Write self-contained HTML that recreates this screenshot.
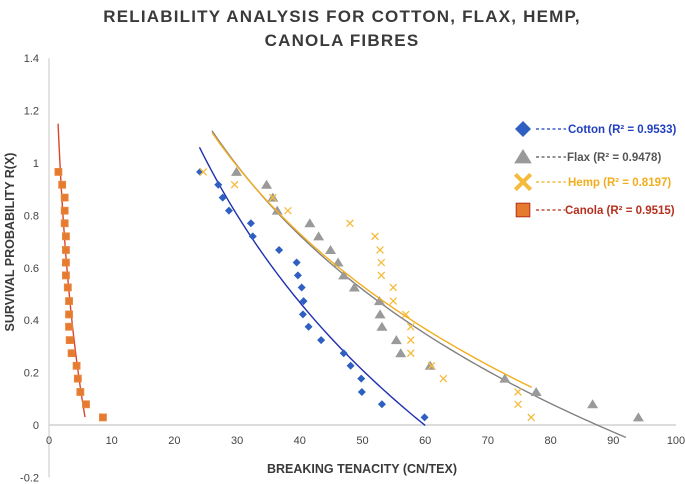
<!DOCTYPE html>
<html><head><meta charset="utf-8"><style>
html,body{margin:0;padding:0;background:#fff;}
svg{display:block;font-family:"Liberation Sans",sans-serif;}
</style></head><body>
<svg id="chart" width="685" height="484" viewBox="0 0 685 484" xmlns="http://www.w3.org/2000/svg">
<g font-weight="bold" font-size="17" fill="#3a3a3a" text-anchor="middle" letter-spacing="1.2">
<text x="342" y="22">RELIABILITY ANALYSIS FOR COTTON, FLAX, HEMP,</text>
<text x="342" y="46">CANOLA FIBRES</text>
</g>
<g id="grid"></g>
<g id="marks"></g>
<g id="legend"></g>
<text x="362" y="473" text-anchor="middle" font-weight="bold" font-size="12.5" fill="#3a3a3a">BREAKING TENACITY (CN/TEX)</text>
<text transform="translate(14,242) rotate(-90)" text-anchor="middle" font-weight="bold" font-size="12.5" fill="#3a3a3a">SURVIVAL PROBABILITY R(X)</text>
</svg>
<script>
const yVals=[0.966,0.917,0.868,0.818,0.77,0.72,0.668,0.62,0.571,0.525,0.473,0.422,0.375,0.324,0.274,0.226,0.177,0.126,0.079,0.029];
const cottonX=[24.1,27.0,27.7,28.7,32.2,32.5,36.7,39.5,39.7,40.3,40.6,40.5,41.4,43.4,47.0,48.1,49.8,49.9,53.1,59.9];
const flaxX=[29.9,34.7,35.7,36.4,41.6,43.0,44.9,46.1,47.0,48.7,52.7,52.8,53.1,55.4,56.1,60.8,72.7,77.7,86.7,94.0];
const hempX=[24.6,29.6,35.7,38.1,48.0,52.0,52.8,53.0,53.0,54.9,54.9,56.9,57.7,57.7,57.7,61.0,62.9,74.8,74.8,76.9];
const canolaX=[1.5,2.1,2.5,2.5,2.5,2.7,2.7,2.7,2.7,3.0,3.2,3.2,3.2,3.3,3.6,4.4,4.6,5.0,5.9,8.6];
const seriesNames=["Cotton","Flax","Hemp","Canola"];
const r2Labels=["0.9533","0.9478","0.8197","0.9515"];
const trendRanges=[[24,60],[26,92],[26,77],[0.03,1.15]];

const xTicks=[0,10,20,30,40,50,60,70,80,90,100];
const yTicks=[-0.2,0,0.2,0.4,0.6,0.8,1,1.2,1.4];

const NS="http://www.w3.org/2000/svg";
const X0=49,X1=676,Y0=425,PPU=262;
function xs(v){return X0+(X1-X0)*v/100;}
function ys(v){return Y0-v*PPU;}
function mk(tag,attrs,parent){const e=document.createElementNS(NS,tag);for(const k in attrs)e.setAttribute(k,attrs[k]);parent.appendChild(e);return e;}

const grid=document.getElementById('grid');
const marks=document.getElementById('marks');
const legend=document.getElementById('legend');

let ax=mk('line',{x1:X0,x2:X0,y1:ys(1.4),y2:ys(-0.2),stroke:'#d0d0d0','stroke-width':1.2},grid);


let bx=mk('line',{x1:X0,x2:X1,y1:Y0,y2:Y0,stroke:'#d0d0d0','stroke-width':1.5},grid);


xTicks.forEach(t=>{
  const e=mk('text',{x:xs(t),y:444,'text-anchor':'middle','font-size':11,fill:'#444'},grid);
  e.textContent=String(t);
  
  
});
yTicks.forEach(t=>{
  const e=mk('text',{x:39,y:ys(t)+4,'text-anchor':'end','font-size':11,fill:'#444'},grid);
  e.textContent=String(Math.round(t*10)/10);
  
  
});

const allX=[cottonX,flaxX,hempX,canolaX];
const lineColors=["#1f2fb0","#808080","#f2ad1e","#d9462b"];
const markColors=["#2e5fc1","#9a9a9a","#f5bb3c","#e67a2e"];
const legendColors=["#1f3fbf","#555555","#f2ad1e","#b5301f"];

function linFit(u,v){
  const n=u.length;let su=0,sv=0,suu=0,suv=0;
  for(let i=0;i<n;i++){su+=u[i];sv+=v[i];suu+=u[i]*u[i];suv+=u[i]*v[i];}
  const a=(n*suv-su*sv)/(n*suu-su*su);const b=(sv-a*su)/n;return [a,b];
}
function marker(type,cx,cy,size,parent){
  const c=markColors[type];let e;
  if(type===0){const s=size;e=mk('polygon',{points:`${cx},${cy-s} ${cx+s},${cy} ${cx},${cy+s} ${cx-s},${cy}`,fill:c},parent);}
  else if(type===1){const s=size;e=mk('polygon',{points:`${cx},${cy-s} ${cx+s*1.1},${cy+s*0.8} ${cx-s*1.1},${cy+s*0.8}`,fill:c},parent);}
  else if(type===2){const s=size*0.85;e=mk('path',{d:`M${cx-s},${cy-s}L${cx+s},${cy+s}M${cx+s},${cy-s}L${cx-s},${cy+s}`,stroke:c,'stroke-width':size>6?4:1.3,fill:'none'},parent);}
  else {const s=size*0.85;e=mk('rect',{x:cx-s,y:cy-s,width:2*s,height:2*s,fill:c,stroke:size>6?'#b5301f':'#e8863f','stroke-width':1},parent);}
  return e;
}
for(let k=0;k<4;k++){
  const xv=allX[k];
  const [lo,hi]=trendRanges[k];
  let d='';
  if(k<3){
    const [a,b]=linFit(xv.map(Math.log),yVals);
    for(let i=0;i<=80;i++){const x=lo+(hi-lo)*i/80;const y=a*Math.log(x)+b;d+=(i?'L':'M')+xs(x).toFixed(2)+','+ys(y).toFixed(2);}
  } else {
    const [a,b]=linFit(yVals,xv.map(Math.log));
    for(let i=0;i<=80;i++){const y=lo+(hi-lo)*i/80;const x=Math.exp(a*y+b);d+=(i?'L':'M')+xs(x).toFixed(2)+','+ys(y).toFixed(2);}
  }
  const p=mk('path',{d:d,fill:'none',stroke:lineColors[k],'stroke-width':1.4},marks);
  
  
  for(let i=0;i<xv.length;i++){
    const m=marker(k,xs(xv[i]),ys(yVals[i]),k===1?5:4,marks);
    
    
  }
  const ly=[129,157,182,210][k];
  const lm=marker(k,523,ly,k===2?9:8,legend);
  
  
  const dash=mk('line',{x1:536,x2:k===3?565:566,y1:ly,y2:ly,stroke:legendColors[k],'stroke-width':1.2,'stroke-dasharray':'3,2.5'},legend);
  
  
  const t=mk('text',{x:k===3?565:(k===1?567:568),y:ly+4,'font-size':11.5,'font-weight':'bold',fill:legendColors[k]},legend);
  t.textContent=seriesNames[k]+' (R² = '+r2Labels[k]+')';
  
  
}
</script>
</body></html>
